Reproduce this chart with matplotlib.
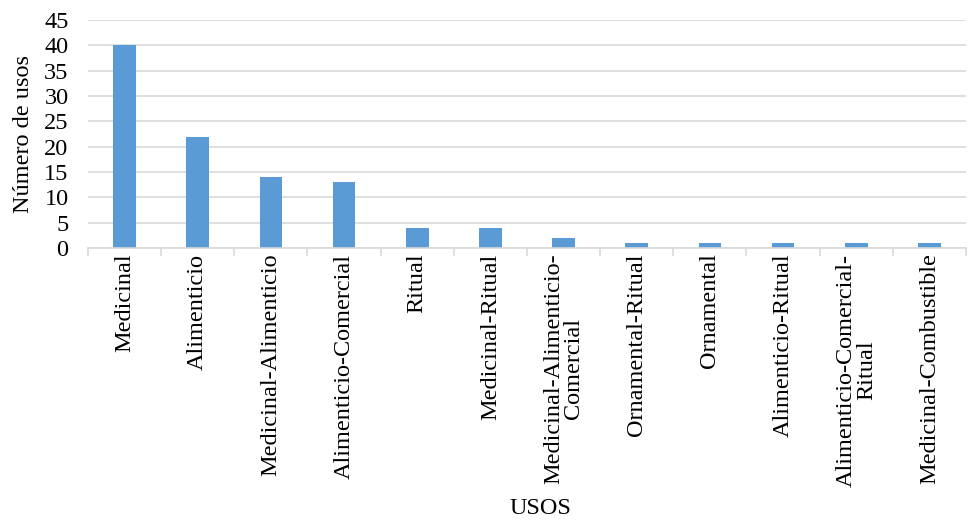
import matplotlib
matplotlib.use("Agg")
import matplotlib.pyplot as plt
import numpy as np

categorias = [
    "Medicinal",
    "Alimenticio",
    "Medicinal-Alimenticio",
    "Alimenticio-Comercial",
    "Ritual",
    "Medicinal-Ritual",
    "Medicinal-Alimenticio-\nComercial",
    "Ornamental-Ritual",
    "Ornamental",
    "Alimenticio-Ritual",
    "Alimenticio-Comercial-\nRitual",
    "Medicinal-Combustible",
]
usos = [40, 22, 14, 13, 4, 4, 2, 1, 1, 1, 1, 1]
y_ticks = [0, 5, 10, 15, 20, 25, 30, 35, 40, 45]

plt.rcParams["font.family"] = ["Liberation Serif", "DejaVu Serif"]
FS = 17.5

fig = plt.figure(figsize=(9.8, 5.22), dpi=100)
ax = fig.add_axes([0.0898, 0.5249, 0.8959, 0.4368])

x = np.arange(len(categorias))
ax.bar(x, usos, width=0.31, color="#5B9BD5", zorder=3)

ax.set_xlim(-0.5, len(categorias) - 0.5)
ax.set_ylim(0, 45)
ax.set_yticks(y_ticks)
ax.tick_params(axis="y", length=0, labelsize=FS, pad=14)
ax.yaxis.grid(True, color="#D9D9D9", linewidth=1.2, zorder=0)

# category labels centred under each bar, tick marks on the boundaries
ax.set_xticks(x)
ax.set_xticklabels(categorias, rotation=90, fontsize=FS, linespacing=0.95,
                   va="top", ha="center")
ax.tick_params(axis="x", length=0, pad=4)
ax.set_xticks(np.arange(-0.5, len(categorias), 1.0), minor=True)
ax.tick_params(axis="x", which="minor", length=6, color="#D9D9D9", width=1.2)

for side in ("left", "right", "top"):
    ax.spines[side].set_visible(False)
ax.spines["bottom"].set_color("#D9D9D9")
ax.spines["bottom"].set_linewidth(1.2)
ax.spines["bottom"].set_zorder(4)

ax.set_ylabel("Número de usos", fontsize=FS, labelpad=7)
fig.text(0.552, 0.025, "USOS", ha="center", va="center", fontsize=FS)

fig.savefig("out.png", dpi=100)
